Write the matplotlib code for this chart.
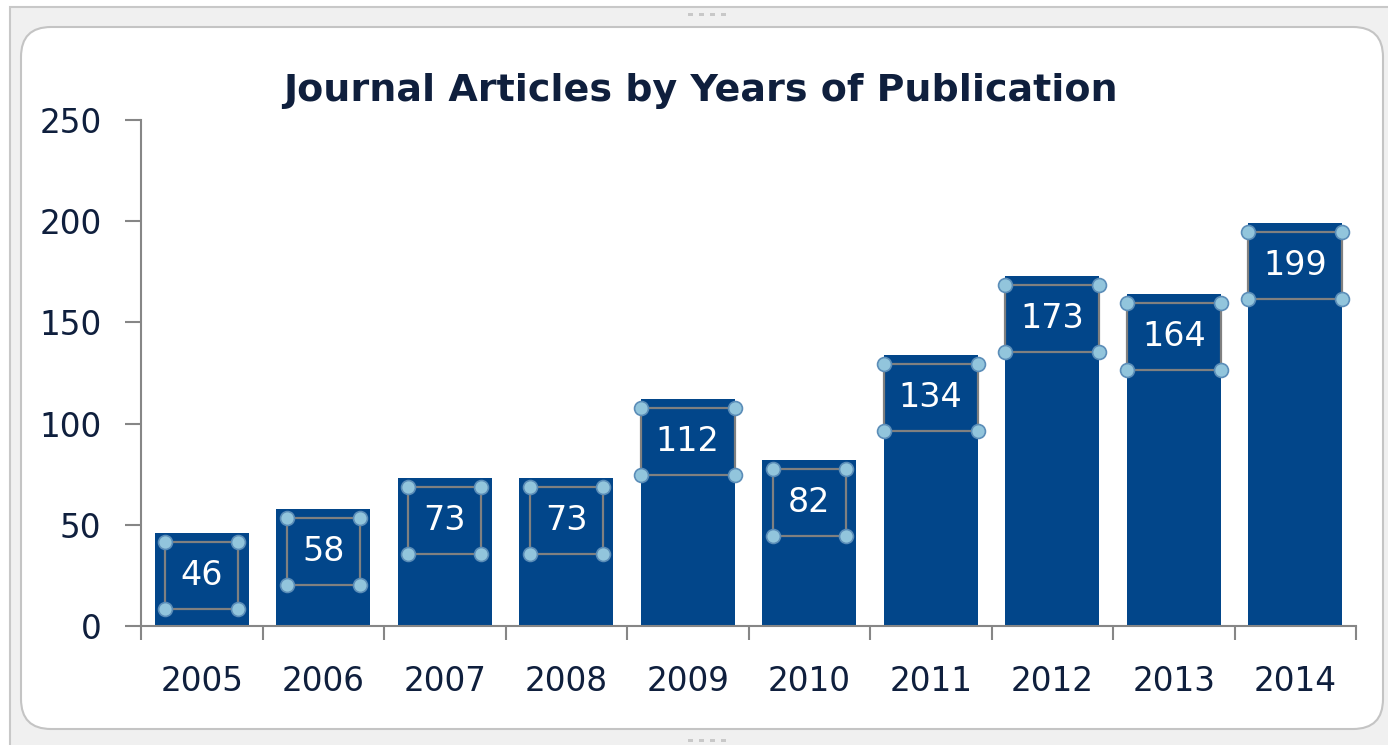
import matplotlib
matplotlib.use("Agg")
import matplotlib.pyplot as plt
from matplotlib.patches import FancyBboxPatch, Rectangle

years = ["2005", "2006", "2007", "2008", "2009", "2010", "2011", "2012", "2013", "2014"]
articles = [46, 58, 73, 73, 112, 82, 134, 173, 164, 199]
yticks = [0, 50, 100, 150, 200, 250]

W, H = 1388, 745
BAR = "#02468A"
TXT = "#0F1F3D"
AXC = "#868686"

fig = plt.figure(figsize=(W / 100, H / 100), dpi=100)
fig.patch.set_facecolor("white")


def fx(px):
    return px / W


def fy(py):
    return 1 - py / H


# window frame behind the chart area
fig.patches.append(Rectangle((fx(10), fy(760)), fx(1400) - fx(10), fy(7) - fy(760),
                             transform=fig.transFigure, facecolor="#F0F0F0",
                             edgecolor="#C8C8C8", lw=1.5, zorder=0))
fig.patches.append(FancyBboxPatch((fx(21), fy(729)), fx(1383) - fx(21), fy(27) - fy(729),
                                  boxstyle=f"round,pad=0,rounding_size={30 / W}",
                                  mutation_aspect=W / H, transform=fig.transFigure,
                                  facecolor="white", edgecolor="#C4C4C4", lw=1.5, zorder=1))
# grip dots
for gy in (14, 740):
    for gx in (688, 699, 710, 721):
        fig.patches.append(Rectangle((fx(gx), fy(gy + 2)), fx(5), 3 / H,
                                     transform=fig.transFigure, facecolor="#C8C8C8",
                                     edgecolor="none", zorder=2))

ax = fig.add_axes([fx(141), fy(626), fx(1356) - fx(141), fy(120) - fy(626)])
ax.set_facecolor("none")
ax.set_zorder(3)

xs = list(range(len(years)))
ax.bar(xs, articles, width=0.77, color=BAR, zorder=2)

for x, v in zip(xs, articles):
    w = 0.6 if v < 100 else 0.77
    top, bot = v - 4.5, v - 37.5
    ax.add_patch(Rectangle((x - w / 2, bot), w, top - bot, fill=False,
                           edgecolor="#808080", lw=1.6, zorder=3))
    ax.plot([x - w / 2, x + w / 2, x - w / 2, x + w / 2], [top, top, bot, bot],
            ls="none", marker="o", ms=10, mfc="#92C5DC", mec="#5B8DB8", mew=1.2,
            zorder=4, clip_on=False)
    ax.text(x, v - 21, str(v), ha="center", va="center", color="white",
            fontsize=24, zorder=5)

ax.set_xlim(-0.5, len(years) - 0.5)
ax.set_ylim(0, 250)
ax.set_xticks(xs)
ax.set_xticklabels(years)
ax.set_xticks([i - 0.5 for i in range(len(years) + 1)], minor=True)
ax.set_yticks(yticks)

ax.tick_params(axis="x", which="major", length=0, pad=28, labelsize=23.5, labelcolor=TXT)
ax.tick_params(axis="x", which="minor", length=10, width=1.5, color=AXC)
ax.tick_params(axis="y", length=11.5, width=1.5, color=AXC, pad=17, labelsize=23.5,
               labelcolor=TXT)

for s in ("top", "right"):
    ax.spines[s].set_visible(False)
for s in ("left", "bottom"):
    ax.spines[s].set_color(AXC)
    ax.spines[s].set_linewidth(1.5)

fig.text(fx(700), fy(91), "Journal Articles by Years of Publication", ha="center",
         va="center", fontsize=27.4, fontweight="bold", color=TXT, zorder=5)

fig.savefig("out.png", dpi=100)
